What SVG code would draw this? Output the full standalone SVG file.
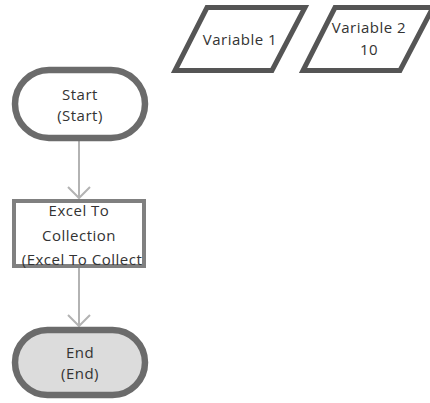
<svg xmlns="http://www.w3.org/2000/svg" width="430" height="403" viewBox="0 0 430 403">
  <defs>
    <style>
      .lbl { font-family: "Open Sans", "Noto Sans", "DejaVu Sans", sans-serif; font-size: 15px; fill: #333333; text-anchor: middle; letter-spacing: 0.5px; }
      .term { fill: #ffffff; stroke: #6b6b6b; stroke-width: 6.5; }
      .term-end { fill: #dcdcdc; stroke: #6b6b6b; stroke-width: 6.5; }
      .proc { fill: #ffffff; stroke: #808080; stroke-width: 4; }
      .io-fill { fill: #ffffff; stroke: none; }
      .io-stroke { fill: none; stroke: #555555; stroke-width: 5; stroke-linejoin: miter; }
      .conn { fill: none; stroke: #b3b3b3; stroke-width: 2; marker-end: url(#arrow); }
    </style>
    <marker id="arrow" viewBox="0 0 24 24" refX="12" refY="12" markerWidth="24" markerHeight="24" markerUnits="userSpaceOnUse" orient="auto">
      <path d="M1,1 L12,12 L1,23" fill="none" stroke="#b3b3b3" stroke-width="2"/>
    </marker>
    <clipPath id="procClip">
      <rect x="16" y="195" width="127" height="80"/>
    </clipPath>
  </defs>

  <g id="connectors">
    <line class="conn" x1="79" y1="141" x2="79" y2="198"/>
    <line class="conn" x1="79" y1="268" x2="79" y2="326"/>
  </g>

  <g id="var1">
    <polygon class="io-fill" points="207,7.5 305,7.5 272,70.5 175,70.5"/>
    <text class="lbl" x="240" y="45">Variable 1</text>
    <polygon class="io-stroke" points="207,7.5 305,7.5 272,70.5 175,70.5"/>
  </g>

  <g id="var2">
    <polygon class="io-fill" points="335,7.5 433,7.5 400,70.5 303,70.5"/>
    <text class="lbl" x="369" y="33">Variable 2</text>
    <text class="lbl" x="369" y="55">10</text>
    <polygon class="io-stroke" points="335,7.5 433,7.5 400,70.5 303,70.5"/>
  </g>

  <g id="start">
    <rect class="term" x="15" y="70" width="130" height="68" rx="34" ry="34"/>
    <text class="lbl" x="80" y="100">Start</text>
    <text class="lbl" x="80" y="121">(Start)</text>
  </g>

  <g id="excel-to-collection">
    <rect class="proc" x="14" y="201" width="130" height="65"/>
    <g clip-path="url(#procClip)">
      <text class="lbl" x="79" y="215.5">Excel To</text>
      <text class="lbl" x="79" y="240.5">Collection</text>
      <text class="lbl" x="82" y="264.5">(Excel To Collect</text>
    </g>
  </g>

  <g id="end">
    <rect class="term-end" x="15" y="330" width="130" height="65" rx="32.5" ry="32.5"/>
    <text class="lbl" x="80" y="358">End</text>
    <text class="lbl" x="80" y="379">(End)</text>
  </g>
</svg>
